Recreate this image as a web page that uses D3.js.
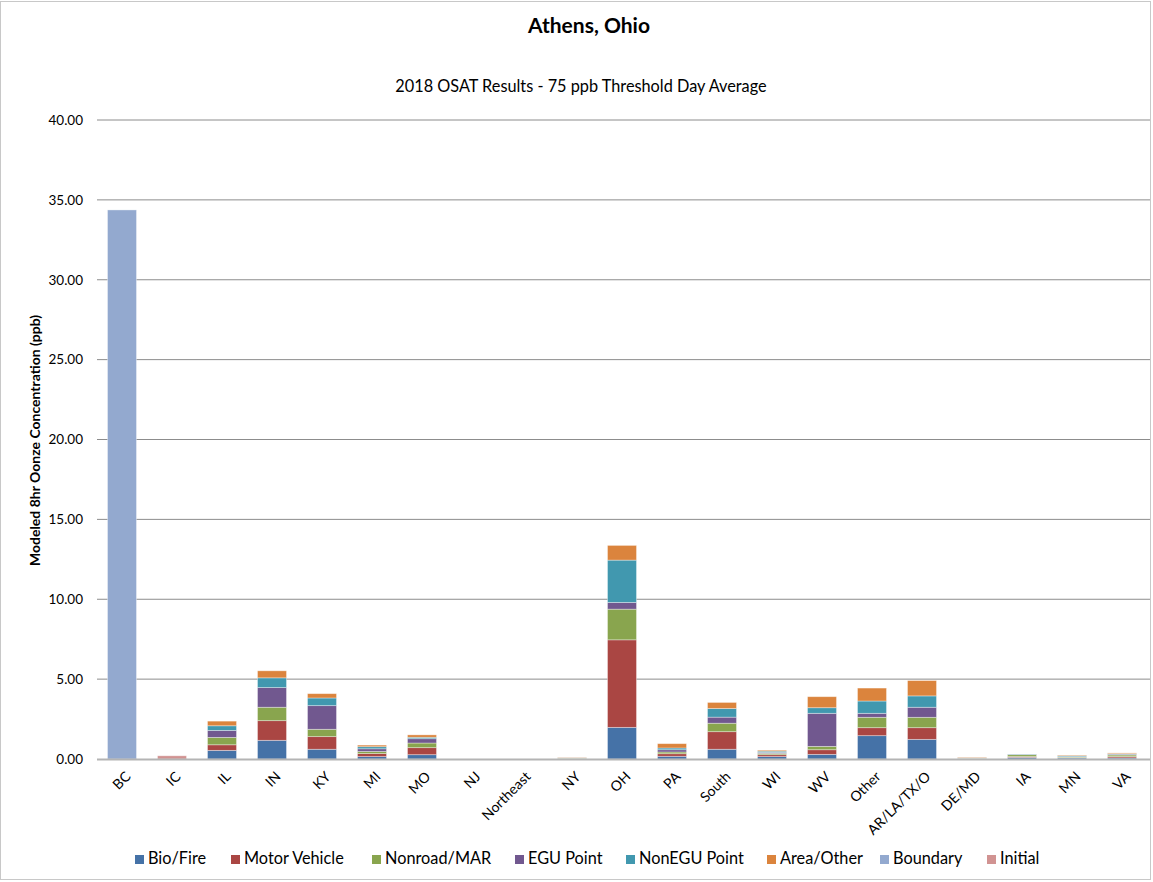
<!DOCTYPE html>
<html>
<head>
<meta charset="utf-8">
<script src="https://cdn.jsdelivr.net/npm/d3@7"></script>
<style>
  body { margin: 0; background: #fff; }
  text { font-family: "Lato", "Open Sans", sans-serif; }
</style>
</head>
<body>
<svg id="chart" width="1153" height="882"></svg>
<script>
// categories along x
const regions = ["BC", "IC", "IL", "IN", "KY", "MI", "MO", "NJ", "Northeast", "NY", "OH", "PA",
  "South", "WI", "WV", "Other", "AR/LA/TX/O", "DE/MD", "IA", "MN", "VA"];

const sources = ["Bio/Fire", "Motor Vehicle", "Nonroad/MAR", "EGU Point", "NonEGU Point",
  "Area/Other", "Boundary", "Initial"];

// ppb contribution per source, one value per region
const bioFire    = [0, 0, 0.54, 1.17, 0.61, 0.15, 0.27, 0, 0, 0.02, 1.98, 0.17, 0.61, 0.15, 0.29, 1.46, 1.23, 0.02, 0.10, 0.07, 0.07];
const motorVeh   = [0, 0, 0.35, 1.23, 0.79, 0.19, 0.44, 0, 0, 0.01, 5.48, 0.16, 1.10, 0.12, 0.29, 0.50, 0.73, 0.02, 0.05, 0.02, 0.08];
const nonroad    = [0, 0, 0.46, 0.84, 0.46, 0.13, 0.29, 0, 0, 0.03, 1.92, 0.11, 0.53, 0.08, 0.21, 0.65, 0.65, 0.02, 0.12, 0.04, 0.10];
const eguPoint   = [0, 0, 0.44, 1.23, 1.48, 0.17, 0.27, 0, 0, 0.01, 0.42, 0.14, 0.38, 0.06, 2.07, 0.25, 0.63, 0.01, 0.02, 0.02, 0.05];
const nonEgu     = [0, 0, 0.29, 0.61, 0.48, 0.13, 0.09, 0, 0, 0.01, 2.65, 0.11, 0.54, 0.08, 0.35, 0.77, 0.71, 0.01, 0.02, 0.06, 0.03];
const areaOther  = [0, 0, 0.29, 0.44, 0.27, 0.10, 0.15, 0, 0, 0.02, 0.92, 0.27, 0.38, 0.06, 0.69, 0.81, 0.96, 0.03, 0.00, 0.04, 0.05];
const boundary   = [34.37, 0, 0, 0, 0, 0, 0, 0, 0, 0, 0, 0, 0, 0, 0, 0, 0, 0, 0, 0, 0];
const initial    = [0, 0.20, 0, 0, 0, 0, 0, 0, 0, 0, 0, 0, 0, 0, 0, 0, 0, 0, 0, 0, 0];

const yTicks = [0, 5, 10, 15, 20, 25, 30, 35, 40];

const colors = ["#4572A7", "#AA4643", "#89A54E", "#71588F", "#4198AF", "#DB843D", "#93A9CF", "#D19392"];
const seriesValues = [bioFire, motorVeh, nonroad, eguPoint, nonEgu, areaOther, boundary, initial];

// build table for d3.stack
const table = regions.map((r, i) => {
  const row = { region: r };
  sources.forEach((s, k) => { row[s] = seriesValues[k][i]; });
  return row;
});

const svg = d3.select("#chart");
const W = 1153, H = 882;
const plotLeft = 97, plotRight = 1147, plotTop = 120, plotBottom = 759;

// chart frame
svg.append("rect")
  .attr("x", 0.5).attr("y", 1.5)
  .attr("width", W - 3).attr("height", H - 4)
  .attr("fill", "#fff").attr("stroke", "#c8c8c8");

const x = d3.scaleBand().domain(regions).range([plotLeft, plotRight]).paddingInner(0.42).paddingOuter(0.21);
const y = d3.scaleLinear().domain([0, 40]).range([plotBottom, plotTop]);

// gridlines
svg.append("g")
  .selectAll("line")
  .data(yTicks.filter(t => t > 0))
  .join("line")
  .attr("x1", plotLeft).attr("x2", plotRight + 3)
  .attr("y1", d => y(d)).attr("y2", d => y(d))
  .attr("stroke", "#8c8c8c").attr("stroke-width", 1);

// y axis labels
const yAxis = d3.axisLeft(y).tickValues(yTicks).tickFormat(d3.format(".2f")).tickSize(0).tickPadding(14);
const ya = svg.append("g").attr("transform", `translate(${plotLeft},0)`).call(yAxis);
ya.select(".domain").remove();
ya.selectAll("text").attr("font-size", 13.5).attr("fill", "#000")
  .style("font-family", "Lato, 'Open Sans', sans-serif");

// stacked bars
const stack = d3.stack().keys(sources);
const layers = stack(table);

svg.append("g")
  .selectAll("g")
  .data(layers)
  .join("g")
  .attr("fill", (d, i) => colors[i])
  .selectAll("rect")
  .data(d => d.filter(p => p[1] - p[0] > 0))
  .join("rect")
  .attr("x", d => x(d.data.region))
  .attr("width", x.bandwidth())
  .attr("y", d => y(d[1]))
  .attr("height", d => y(d[0]) - y(d[1]))
  .attr("stroke", "rgba(255,255,255,0.45)")
  .attr("stroke-width", 0.8);

// x axis baseline
svg.append("line")
  .attr("x1", plotLeft).attr("x2", plotRight + 3)
  .attr("y1", plotBottom + 0.5).attr("y2", plotBottom + 0.5)
  .attr("stroke", "#b4b4b4").attr("stroke-width", 2);

// x labels
svg.append("g")
  .selectAll("text")
  .data(regions)
  .join("text")
  .attr("transform", d => `translate(${x(d) + x.bandwidth() / 2 + 7},${plotBottom + 16}) rotate(-45)`)
  .attr("text-anchor", "end")
  .attr("dominant-baseline", "middle")
  .attr("font-size", 14)
  .text(d => d);

// titles
svg.append("text")
  .attr("x", 589).attr("y", 33)
  .attr("text-anchor", "middle")
  .attr("font-size", 21).attr("font-weight", "bold")
  .text("Athens, Ohio");

svg.append("text")
  .attr("x", 581).attr("y", 92)
  .attr("text-anchor", "middle")
  .attr("font-size", 16.3)
  .text("2018 OSAT Results - 75 ppb Threshold Day Average");

svg.append("text")
  .attr("transform", `translate(40,${(313 + 568) / 2}) rotate(-90)`)
  .attr("text-anchor", "middle")
  .attr("font-size", 14).attr("font-weight", "bold")
  .text("Modeled 8hr Oonze Concentration (ppb)");

// legend
const legendX = [135, 231, 372, 515, 626, 767, 880, 987];
const lg = svg.append("g")
  .selectAll("g")
  .data(sources)
  .join("g")
  .attr("transform", (d, i) => `translate(${legendX[i]},860)`);
lg.append("rect")
  .attr("x", 0).attr("y", -5).attr("width", 9).attr("height", 9)
  .attr("fill", (d, i) => colors[i]);
lg.append("text")
  .attr("x", 13).attr("y", 0)
  .attr("dominant-baseline", "middle")
  .attr("font-size", 16.3)
  .text(d => d);
</script>
</body>
</html>
